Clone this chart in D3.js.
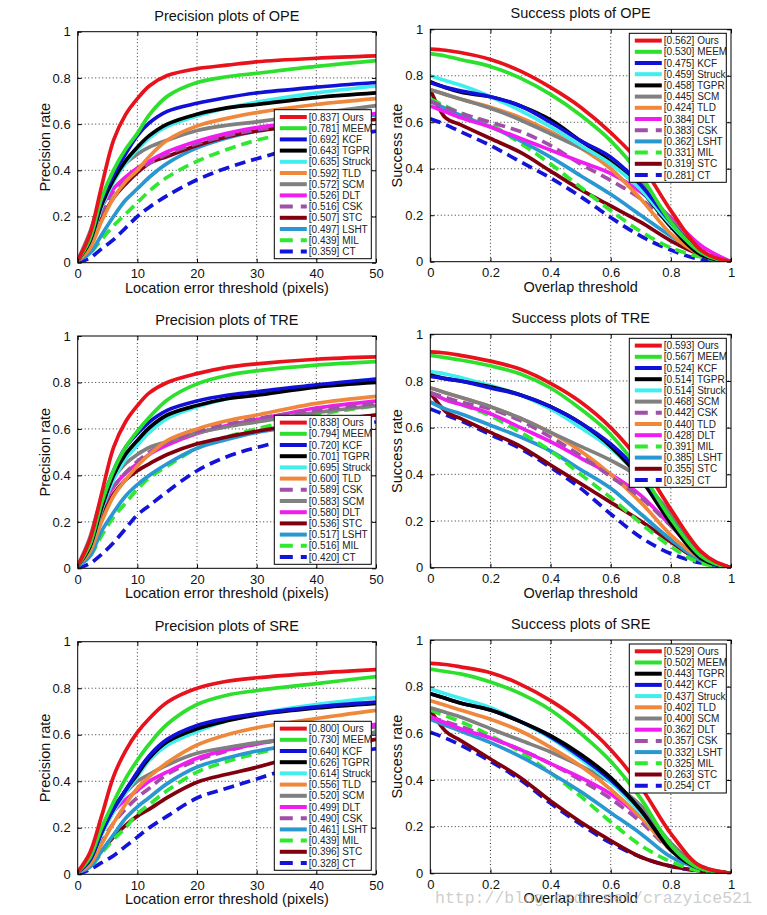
<!DOCTYPE html>
<html><head><meta charset="utf-8">
<script src="https://cdn.jsdelivr.net/npm/d3@7"></script>
<style>
html,body{margin:0;padding:0;background:#fff;}
svg{display:block;font-family:"Liberation Sans",Arial,Helvetica,sans-serif;}
</style></head>
<body>
<svg id="chart" width="767" height="915"></svg>
<script>
// ---------- shared ----------
const trackers = ["Ours","MEEM","KCF","TGPR","Struck","TLD","SCM","DLT","CSK","STC","LSHT","MIL","CT"];
const trackerColors = ["#e8121c","#2ee02e","#1010d8","#000000","#40eeee","#f0883c","#808080","#f01cf0","#a050a8","#800010","#2a98d0","#30e830","#1414d8"];
const trackerDashed = [false,false,false,false,false,false,false,false,true,false,false,true,true];

const precThresholds = [0,2,4,6,8,10,12,15,20,25,30,40,50];
const succThresholds = [0,0.05,0.1,0.2,0.3,0.4,0.5,0.6,0.7,0.8,0.9,1];
const precTicks = [0,10,20,30,40,50];
const succTicks = [0,0.2,0.4,0.6,0.8,1];
const rateTicks = [0,0.2,0.4,0.6,0.8,1];

// ---------- Precision plots of OPE ----------
const opePrecNames  = ["Ours","MEEM","KCF","TGPR","Struck","TLD","SCM","DLT","CSK","STC","LSHT","MIL","CT"];
const opePrecScores = ["0.837","0.781","0.692","0.643","0.635","0.592","0.572","0.526","0.516","0.507","0.497","0.439","0.359"];
const opePrecValues = [
  [0.01,0.12,0.33,0.53,0.64,0.71,0.765,0.81,0.84,0.855,0.87,0.885,0.895],
  [0.01,0.10,0.28,0.40,0.49,0.56,0.64,0.72,0.78,0.805,0.82,0.85,0.875],
  [0.01,0.10,0.27,0.38,0.47,0.55,0.605,0.655,0.69,0.715,0.735,0.76,0.78],
  [0.01,0.09,0.25,0.36,0.44,0.50,0.55,0.60,0.643,0.67,0.685,0.715,0.735],
  [0.01,0.09,0.24,0.35,0.43,0.49,0.54,0.59,0.635,0.67,0.695,0.735,0.765],
  [0.01,0.06,0.18,0.28,0.35,0.40,0.46,0.53,0.592,0.625,0.65,0.685,0.71],
  [0.01,0.13,0.28,0.37,0.43,0.47,0.50,0.53,0.572,0.595,0.61,0.645,0.68],
  [0.01,0.10,0.24,0.32,0.37,0.41,0.44,0.48,0.526,0.56,0.585,0.615,0.645],
  [0.01,0.09,0.22,0.31,0.36,0.40,0.43,0.47,0.516,0.55,0.575,0.605,0.635],
  [0.01,0.07,0.19,0.28,0.34,0.39,0.43,0.46,0.507,0.545,0.57,0.60,0.62],
  [0.01,0.04,0.12,0.20,0.27,0.32,0.37,0.43,0.497,0.54,0.57,0.61,0.64],
  [0.01,0.04,0.10,0.16,0.21,0.26,0.31,0.37,0.439,0.49,0.53,0.585,0.63],
  [0.00,0.02,0.06,0.10,0.15,0.20,0.24,0.29,0.359,0.41,0.45,0.52,0.57]
];

// ---------- Success plots of OPE ----------
const opeSuccNames  = ["Ours","MEEM","KCF","Struck","TGPR","SCM","TLD","DLT","CSK","LSHT","MIL","STC","CT"];
const opeSuccScores = ["0.562","0.530","0.475","0.459","0.458","0.445","0.424","0.384","0.383","0.362","0.331","0.319","0.281"];
const opeSuccValues = [
  [0.915,0.91,0.90,0.87,0.82,0.75,0.665,0.555,0.42,0.22,0.05,0],
  [0.895,0.885,0.87,0.84,0.79,0.72,0.63,0.52,0.37,0.17,0.04,0],
  [0.77,0.75,0.735,0.71,0.67,0.60,0.52,0.45,0.33,0.17,0.04,0],
  [0.80,0.78,0.76,0.71,0.65,0.58,0.50,0.42,0.31,0.16,0.04,0],
  [0.775,0.75,0.73,0.71,0.67,0.61,0.52,0.43,0.31,0.15,0.03,0],
  [0.74,0.72,0.70,0.66,0.61,0.55,0.49,0.43,0.34,0.18,0.04,0],
  [0.74,0.72,0.70,0.665,0.62,0.56,0.49,0.40,0.27,0.12,0.03,0],
  [0.67,0.645,0.62,0.58,0.53,0.48,0.43,0.38,0.30,0.19,0.07,0],
  [0.69,0.665,0.64,0.60,0.56,0.50,0.42,0.35,0.27,0.16,0.05,0],
  [0.69,0.66,0.63,0.58,0.52,0.45,0.37,0.29,0.20,0.11,0.04,0],
  [0.70,0.67,0.64,0.59,0.51,0.42,0.32,0.22,0.13,0.06,0.02,0],
  [0.74,0.62,0.59,0.53,0.47,0.39,0.31,0.24,0.17,0.09,0.03,0],
  [0.615,0.59,0.56,0.50,0.43,0.36,0.28,0.19,0.11,0.05,0.01,0]
];

// ---------- Precision plots of TRE ----------
const trePrecNames  = ["Ours","MEEM","KCF","TGPR","Struck","TLD","CSK","SCM","DLT","STC","LSHT","MIL","CT"];
const trePrecScores = ["0.838","0.794","0.720","0.701","0.695","0.600","0.589","0.583","0.580","0.536","0.517","0.516","0.420"];
const trePrecValues = [
  [0.01,0.12,0.32,0.52,0.63,0.70,0.755,0.80,0.838,0.865,0.88,0.90,0.91],
  [0.01,0.10,0.28,0.42,0.52,0.59,0.65,0.725,0.794,0.83,0.85,0.875,0.89],
  [0.01,0.10,0.28,0.42,0.52,0.58,0.63,0.68,0.72,0.745,0.76,0.79,0.815],
  [0.01,0.09,0.26,0.40,0.49,0.55,0.605,0.66,0.701,0.73,0.745,0.78,0.80],
  [0.01,0.09,0.25,0.38,0.47,0.53,0.585,0.645,0.695,0.73,0.75,0.785,0.815],
  [0.01,0.07,0.20,0.31,0.38,0.44,0.49,0.55,0.60,0.635,0.66,0.71,0.74],
  [0.01,0.10,0.25,0.35,0.41,0.46,0.50,0.54,0.589,0.62,0.645,0.68,0.71],
  [0.01,0.13,0.30,0.39,0.45,0.49,0.52,0.545,0.583,0.61,0.63,0.67,0.70],
  [0.01,0.11,0.26,0.35,0.41,0.45,0.49,0.53,0.58,0.615,0.64,0.69,0.72],
  [0.01,0.09,0.23,0.32,0.38,0.42,0.45,0.49,0.536,0.565,0.59,0.63,0.66],
  [0.01,0.05,0.16,0.24,0.31,0.36,0.40,0.45,0.517,0.555,0.585,0.625,0.66],
  [0.01,0.05,0.14,0.22,0.28,0.34,0.39,0.44,0.516,0.565,0.60,0.66,0.70],
  [0.00,0.02,0.06,0.11,0.17,0.23,0.27,0.33,0.42,0.48,0.52,0.58,0.63]
];

// ---------- Success plots of TRE ----------
const treSuccNames  = ["Ours","MEEM","KCF","TGPR","Struck","SCM","CSK","TLD","DLT","MIL","LSHT","STC","CT"];
const treSuccScores = ["0.593","0.567","0.524","0.514","0.514","0.468","0.442","0.440","0.428","0.391","0.385","0.355","0.325"];
const treSuccValues = [
  [0.925,0.92,0.91,0.885,0.85,0.79,0.71,0.60,0.45,0.25,0.07,0],
  [0.91,0.90,0.89,0.865,0.83,0.77,0.68,0.57,0.41,0.21,0.05,0],
  [0.82,0.81,0.80,0.77,0.74,0.69,0.62,0.53,0.40,0.21,0.05,0],
  [0.825,0.81,0.80,0.775,0.74,0.69,0.62,0.52,0.38,0.19,0.04,0],
  [0.84,0.83,0.815,0.78,0.74,0.68,0.60,0.51,0.38,0.20,0.05,0],
  [0.77,0.75,0.73,0.69,0.64,0.58,0.52,0.46,0.38,0.23,0.06,0],
  [0.75,0.73,0.71,0.68,0.63,0.56,0.48,0.39,0.30,0.18,0.06,0],
  [0.77,0.75,0.73,0.69,0.64,0.58,0.50,0.40,0.28,0.14,0.04,0],
  [0.75,0.72,0.70,0.66,0.60,0.54,0.47,0.40,0.31,0.18,0.05,0],
  [0.75,0.72,0.70,0.65,0.58,0.50,0.40,0.30,0.19,0.09,0.02,0],
  [0.71,0.68,0.66,0.61,0.56,0.50,0.42,0.34,0.23,0.12,0.03,0],
  [0.75,0.67,0.64,0.58,0.52,0.44,0.36,0.28,0.20,0.11,0.03,0],
  [0.68,0.655,0.63,0.57,0.51,0.43,0.34,0.23,0.13,0.06,0.02,0]
];

// ---------- Precision plots of SRE ----------
const srePrecNames  = ["Ours","MEEM","KCF","TGPR","Struck","TLD","SCM","DLT","CSK","LSHT","MIL","STC","CT"];
const srePrecScores = ["0.800","0.730","0.640","0.626","0.614","0.556","0.520","0.499","0.490","0.461","0.439","0.396","0.328"];
const srePrecValues = [
  [0.01,0.09,0.25,0.42,0.53,0.61,0.67,0.74,0.80,0.83,0.845,0.865,0.88],
  [0.01,0.07,0.20,0.31,0.41,0.49,0.56,0.645,0.73,0.77,0.79,0.82,0.85],
  [0.01,0.06,0.18,0.28,0.36,0.44,0.51,0.58,0.64,0.67,0.69,0.72,0.74],
  [0.01,0.06,0.18,0.28,0.36,0.43,0.50,0.57,0.626,0.66,0.685,0.715,0.735],
  [0.01,0.06,0.17,0.27,0.35,0.42,0.49,0.555,0.614,0.66,0.69,0.73,0.76],
  [0.01,0.04,0.13,0.22,0.30,0.37,0.42,0.48,0.556,0.60,0.63,0.67,0.705],
  [0.01,0.07,0.20,0.29,0.35,0.40,0.43,0.47,0.52,0.545,0.565,0.59,0.61],
  [0.01,0.07,0.18,0.27,0.32,0.36,0.40,0.44,0.499,0.535,0.56,0.61,0.645],
  [0.01,0.05,0.14,0.22,0.28,0.33,0.37,0.43,0.49,0.53,0.56,0.60,0.635],
  [0.01,0.03,0.10,0.17,0.24,0.29,0.33,0.39,0.461,0.50,0.53,0.57,0.61],
  [0.01,0.03,0.09,0.15,0.20,0.26,0.30,0.36,0.439,0.485,0.52,0.575,0.625],
  [0.01,0.04,0.10,0.16,0.21,0.25,0.28,0.33,0.396,0.43,0.46,0.53,0.58],
  [0.00,0.02,0.05,0.08,0.12,0.16,0.20,0.25,0.328,0.37,0.41,0.49,0.54]
];

// ---------- Success plots of SRE ----------
const sreSuccNames  = ["Ours","MEEM","TGPR","KCF","Struck","TLD","SCM","DLT","CSK","LSHT","MIL","STC","CT"];
const sreSuccScores = ["0.529","0.502","0.443","0.442","0.437","0.402","0.400","0.362","0.357","0.332","0.325","0.263","0.254"];
const sreSuccValues = [
  [0.90,0.895,0.885,0.86,0.81,0.74,0.65,0.53,0.37,0.17,0.03,0],
  [0.875,0.865,0.855,0.82,0.77,0.70,0.60,0.48,0.32,0.12,0.02,0],
  [0.77,0.75,0.73,0.70,0.65,0.59,0.51,0.41,0.27,0.10,0.02,0],
  [0.77,0.75,0.73,0.70,0.65,0.585,0.50,0.40,0.27,0.10,0.02,0],
  [0.79,0.77,0.75,0.71,0.65,0.58,0.49,0.39,0.26,0.11,0.02,0],
  [0.74,0.72,0.70,0.66,0.61,0.54,0.46,0.36,0.24,0.10,0.02,0],
  [0.71,0.69,0.67,0.62,0.57,0.52,0.46,0.39,0.29,0.13,0.03,0],
  [0.67,0.645,0.62,0.58,0.53,0.47,0.41,0.34,0.24,0.11,0.02,0],
  [0.67,0.65,0.63,0.58,0.53,0.47,0.40,0.32,0.22,0.10,0.02,0],
  [0.66,0.635,0.61,0.56,0.50,0.43,0.35,0.26,0.17,0.07,0.02,0],
  [0.70,0.675,0.65,0.59,0.52,0.43,0.33,0.22,0.12,0.05,0.01,0],
  [0.70,0.61,0.57,0.49,0.41,0.31,0.22,0.14,0.07,0.03,0.01,0],
  [0.605,0.58,0.55,0.48,0.40,0.30,0.21,0.13,0.07,0.03,0.01,0]
];

// ---------- layout ----------
const panels = [
  {title:"Precision plots of OPE", kind:"prec", names:opePrecNames, scores:opePrecScores, values:opePrecValues, l:77.7, r:376, t:31.7, b:262.7},
  {title:"Success plots of OPE",   kind:"succ", names:opeSuccNames, scores:opeSuccScores, values:opeSuccValues, l:430.3, r:731, t:29.3, b:261.7},
  {title:"Precision plots of TRE", kind:"prec", names:trePrecNames, scores:trePrecScores, values:trePrecValues, l:77.7, r:376, t:336, b:568.3},
  {title:"Success plots of TRE",   kind:"succ", names:treSuccNames, scores:treSuccScores, values:treSuccValues, l:430.3, r:731, t:334.3, b:567.7},
  {title:"Precision plots of SRE", kind:"prec", names:srePrecNames, scores:srePrecScores, values:srePrecValues, l:77.7, r:376, t:641.7, b:874.3},
  {title:"Success plots of SRE",   kind:"succ", names:sreSuccNames, scores:sreSuccScores, values:sreSuccValues, l:430.3, r:731, t:640, b:873.3}
];

const svg = d3.select("#chart");
const defs = svg.append("defs");

panels.forEach((p, pi) => {
  const isPrec = p.kind === "prec";
  const xs = isPrec ? precThresholds : succThresholds;
  const x = d3.scaleLinear().domain(isPrec ? [0,50] : [0,1]).range([p.l, p.r]);
  const y = d3.scaleLinear().domain([0,1]).range([p.b, p.t]);
  const g = svg.append("g");

  defs.append("clipPath").attr("id","clip"+pi)
    .append("rect").attr("x",p.l).attr("y",p.t).attr("width",p.r-p.l).attr("height",p.b-p.t);

  // grid
  const xt = isPrec ? precTicks : succTicks;
  g.append("g").selectAll("line").data(xt.slice(1,-1)).join("line")
    .attr("x1",d=>x(d)).attr("x2",d=>x(d)).attr("y1",p.t).attr("y2",p.b)
    .attr("stroke","#000").attr("stroke-width",0.8).attr("stroke-dasharray","1,2.5");
  g.append("g").selectAll("line").data(rateTicks.slice(1,-1)).join("line")
    .attr("y1",d=>y(d)).attr("y2",d=>y(d)).attr("x1",p.l).attr("x2",p.r)
    .attr("stroke","#000").attr("stroke-width",0.8).attr("stroke-dasharray","1,2.5");

  // curves (draw last legend entry first so "Ours" is on top)
  const line = d3.line().x((d,i)=>x(xs[i])).y(d=>y(d))
    .curve(isPrec ? d3.curveCatmullRom.alpha(0.5) : d3.curveMonotoneX);
  const order = d3.range(p.names.length).reverse();
  g.append("g").attr("clip-path","url(#clip"+pi+")").selectAll("path").data(order).join("path")
    .attr("d", i => line(p.values[i]))
    .attr("fill","none")
    .attr("stroke", i => trackerColors[trackers.indexOf(p.names[i])])
    .attr("stroke-width", 3.7)
    .attr("stroke-linejoin","round")
    .attr("stroke-dasharray", i => trackerDashed[trackers.indexOf(p.names[i])] ? "11,6" : null);

  // axes (MATLAB-style: ticks inside, on all sides)
  const fs = 13;
  const bottom = d3.axisBottom(x).tickValues(xt).tickSize(-4).tickPadding(6).tickFormat(d3.format("~g"));
  const top = d3.axisTop(x).tickValues(xt).tickSize(-4).tickFormat("");
  const left = d3.axisLeft(y).tickValues(rateTicks).tickSize(-4).tickPadding(7).tickFormat(d3.format("~g"));
  const right = d3.axisRight(y).tickValues(rateTicks).tickSize(-4).tickFormat("");
  const styleAxis = sel => { sel.select(".domain").remove(); sel.selectAll("line").attr("stroke","#000");
    sel.selectAll("text").attr("fill","#111").style("font-size",fs+"px").style("font-family","'Liberation Sans',Arial,sans-serif"); };
  g.append("g").attr("transform",`translate(0,${p.b})`).call(bottom).call(styleAxis);
  g.append("g").attr("transform",`translate(0,${p.t})`).call(top).call(styleAxis);
  g.append("g").attr("transform",`translate(${p.l},0)`).call(left).call(styleAxis);
  g.append("g").attr("transform",`translate(${p.r},0)`).call(right).call(styleAxis);

  g.append("rect").attr("x",p.l).attr("y",p.t).attr("width",p.r-p.l).attr("height",p.b-p.t)
    .attr("fill","none").attr("stroke","#000").attr("stroke-width",1);

  // titles and labels
  g.append("text").attr("x",(p.l+p.r)/2).attr("y",p.t-11).attr("text-anchor","middle")
    .style("font-size","14.5px").attr("fill","#111").text(p.title);
  g.append("text").attr("x",(p.l+p.r)/2).attr("y",p.b+30).attr("text-anchor","middle")
    .style("font-size","14.5px").attr("fill","#111").text(isPrec ? "Location error threshold (pixels)" : "Overlap threshold");
  const ylx = p.l - 28;
  g.append("text").attr("transform",`translate(${ylx},${(p.t+p.b)/2}) rotate(-90)`).attr("text-anchor","middle")
    .style("font-size","14.5px").attr("fill","#111").text(isPrec ? "Precision rate" : "Success rate");

  // legend
  const lw = 97, lh = 149;
  const lx = p.r - 4.7 - lw;
  const ly = isPrec ? p.b - 4 - lh : p.t + 4;
  const lg = g.append("g");
  lg.append("rect").attr("x",lx).attr("y",ly).attr("width",lw).attr("height",lh)
    .attr("fill","#fff").attr("stroke","#000").attr("stroke-width",1);
  const items = lg.selectAll("g.item").data(p.names).join("g").attr("class","item")
    .attr("transform",(d,i)=>`translate(${lx},${ly+7.3+i*11.2})`);
  items.append("line").attr("x1",5.5).attr("x2",32.5).attr("y1",0).attr("y2",0)
    .attr("stroke", d => trackerColors[trackers.indexOf(d)])
    .attr("stroke-width",4)
    .attr("stroke-dasharray", d => trackerDashed[trackers.indexOf(d)] ? "13,8" : null);
  items.append("text").attr("x",34.5).attr("y",0).attr("dy","0.35em")
    .style("font-size","10px").attr("fill","#222")
    .text((d,i)=>`[${p.scores[i]}] ${d}`);
});

// watermark (present in the reference image)
svg.append("text").attr("x",435).attr("y",903)
  .style("font-family","'Liberation Mono','DejaVu Sans Mono',monospace").style("font-size","16.5px")
  .attr("fill","#bdbdbd").attr("fill-opacity",0.75)
  .text("http://blog.csdn.net/crazyice521");
</script>
</body></html>
